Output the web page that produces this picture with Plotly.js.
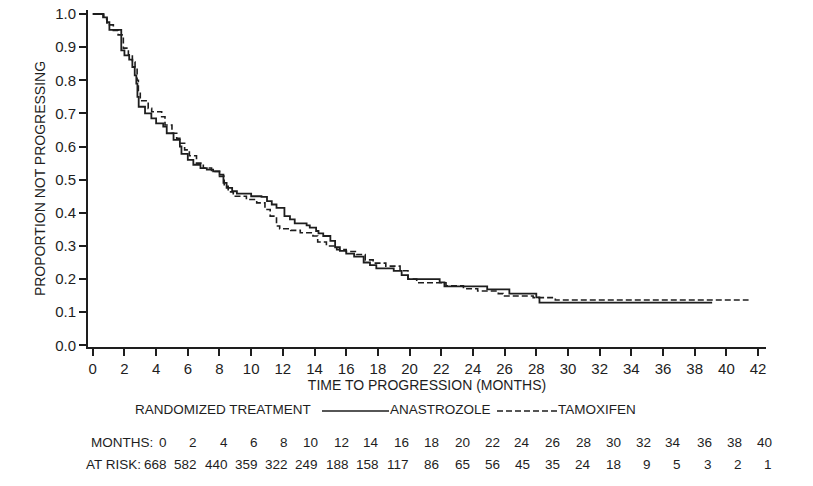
<!DOCTYPE html>
<html>
<head>
<meta charset="utf-8">
<script src="https://cdn.plot.ly/plotly-3.0.1.min.js"></script>
<style>
  html, body { margin: 0; padding: 0; background: #fff; }
  #plot { width: 813px; height: 486px; }
</style>
</head>
<body>
<div id="plot"></div>
<script>
// Kaplan-Meier estimates (months, proportion not progressing)
const anaMonths = [0, 0.65, 0.9, 1.05, 1.8, 2.0, 2.3, 2.5, 2.65, 2.75, 2.82, 2.9, 3.3, 3.7, 4.0, 4.45, 4.67, 5.1, 5.5, 5.6, 6.0, 6.35, 6.8, 7.2, 7.6, 8.0, 8.25, 8.45, 8.8, 9.1, 10.0, 10.65, 11.0, 11.3, 11.6, 12.1, 12.45, 12.75, 13.5, 13.7, 14.1, 14.25, 14.55, 15.0, 15.3, 15.6, 16.0, 16.5, 17.1, 17.5, 17.9, 19.0, 19.5, 19.9, 21.9, 22.2, 24.9, 26.3, 28.0, 28.2, 39.1];
const anaSurv = [1.0, 0.99, 0.975, 0.952, 0.89, 0.875, 0.862, 0.84, 0.815, 0.79, 0.75, 0.72, 0.70, 0.685, 0.67, 0.66, 0.64, 0.62, 0.60, 0.578, 0.56, 0.545, 0.535, 0.53, 0.525, 0.515, 0.49, 0.475, 0.465, 0.458, 0.45, 0.448, 0.435, 0.425, 0.415, 0.39, 0.38, 0.368, 0.362, 0.355, 0.345, 0.338, 0.33, 0.315, 0.296, 0.285, 0.277, 0.268, 0.25, 0.242, 0.232, 0.225, 0.212, 0.2, 0.19, 0.178, 0.169, 0.156, 0.145, 0.129, 0.129];

const tamMonths = [0, 0.7, 0.9, 1.3, 1.6, 1.93, 2.25, 2.5, 2.67, 2.8, 2.88, 3.0, 3.5, 3.72, 4.35, 4.56, 5.0, 5.3, 5.5, 5.8, 6.1, 6.55, 6.98, 7.5, 8.0, 8.3, 8.55, 8.87, 9.7, 10.35, 10.87, 11.2, 11.6, 11.8, 12.5, 13.1, 13.9, 14.2, 14.75, 15.4, 16.0, 16.65, 17.2, 17.7, 18.5, 19.4, 19.9, 20.45, 22.3, 23.4, 24.3, 25.6, 25.9, 27.8, 29.2, 41.4];
const tamSurv = [1.0, 0.985, 0.967, 0.95, 0.937, 0.897, 0.877, 0.855, 0.84, 0.80, 0.766, 0.738, 0.715, 0.705, 0.69, 0.665, 0.64, 0.625, 0.61, 0.59, 0.572, 0.55, 0.535, 0.525, 0.51, 0.48, 0.463, 0.45, 0.44, 0.43, 0.41, 0.39, 0.36, 0.352, 0.347, 0.34, 0.33, 0.312, 0.30, 0.289, 0.283, 0.274, 0.258, 0.248, 0.239, 0.225, 0.2, 0.189, 0.18, 0.171, 0.164, 0.156, 0.149, 0.144, 0.137, 0.137];

// patients at risk table
const riskMonths = [0, 2, 4, 6, 8, 10, 12, 14, 16, 18, 20, 22, 24, 26, 28, 30, 32, 34, 36, 38, 40];
const atRisk = [668, 582, 440, 359, 322, 249, 188, 158, 117, 86, 65, 56, 45, 35, 24, 18, 9, 5, 3, 2, 1];

const FONT = "Liberation Sans Narrow, Arial Narrow, Liberation Sans, Arial, sans-serif";
const INK = "#1e1e1e";

// plot box in pixels (for placing the table and legend below the axes)
const box = { l: 88, r: 47, t: 10, b: 139, w: 813, h: 486 };
const plotW = box.w - box.l - box.r;
const plotH = box.h - box.t - box.b;
const px = x => (x - box.l) / plotW;
const py = y => (box.h - box.b - y) / plotH;

const traces = [
  {
    x: anaMonths, y: anaSurv, type: "scatter", mode: "lines", name: "ANASTROZOLE",
    line: { shape: "hv", color: INK, width: 1.8 }, showlegend: false
  },
  {
    x: tamMonths, y: tamSurv, type: "scatter", mode: "lines", name: "TAMOXIFEN",
    line: { shape: "hv", color: INK, width: 1.6, dash: "6px,3px" }, showlegend: false
  }
];

const annotations = [];
const shapes = [];

function label(text, x, y, anchor) {
  annotations.push({
    text: text, xref: "paper", yref: "paper", x: px(x), y: py(y),
    xanchor: anchor, yanchor: "middle", showarrow: false,
    font: { family: FONT, size: 13.5, color: INK }
  });
}

// legend row
label("RANDOMIZED TREATMENT", 133, 410, "left");
shapes.push({ type: "line", xref: "paper", yref: "paper", x0: px(322), x1: px(389), y0: py(411), y1: py(411),
  line: { color: INK, width: 1.6 } });
label("ANASTROZOLE", 388, 410, "left");
shapes.push({ type: "line", xref: "paper", yref: "paper", x0: px(497), x1: px(557), y0: py(411), y1: py(411),
  line: { color: INK, width: 1.6, dash: "6px,3px" } });
label("TAMOXIFEN", 556, 410, "left");

// at-risk table
label("MONTHS:", 89, 442, "left");
label("AT RISK:", 84, 465, "left");
riskMonths.forEach((m, i) => {
  const right = 169 + 15.13 * m;
  label(String(m), right, 442, "right");
  label(String(atRisk[i]), right, 465, "right");
});

const axisCommon = {
  showline: true, linecolor: INK, linewidth: 2,
  ticks: "outside", ticklen: 7, tickwidth: 2, tickcolor: INK,
  showgrid: false, zeroline: false,
  tickfont: { family: FONT, size: 15, color: INK }
};

const layout = {
  width: 813, height: 486,
  margin: { l: box.l, r: box.r, t: box.t, b: box.b },
  paper_bgcolor: "#fff", plot_bgcolor: "#fff",
  font: { family: FONT, color: INK },
  xaxis: Object.assign({}, axisCommon, {
    range: [-0.3, 42.5], tickmode: "linear", tick0: 0, dtick: 2,
    title: { text: "TIME TO PROGRESSION (MONTHS)", font: { family: FONT, size: 14, color: INK }, standoff: 4 }
  }),
  yaxis: Object.assign({}, axisCommon, {
    range: [-0.005, 1.012], tickmode: "linear", tick0: 0, dtick: 0.1, tickformat: ".1f",
    title: { text: "PROPORTION NOT PROGRESSING", font: { family: FONT, size: 14, color: INK }, standoff: 6 }
  }),
  annotations: annotations,
  shapes: shapes
};

Plotly.newPlot("plot", traces, layout, { staticPlot: true, displayModeBar: false });
</script>
</body>
</html>
